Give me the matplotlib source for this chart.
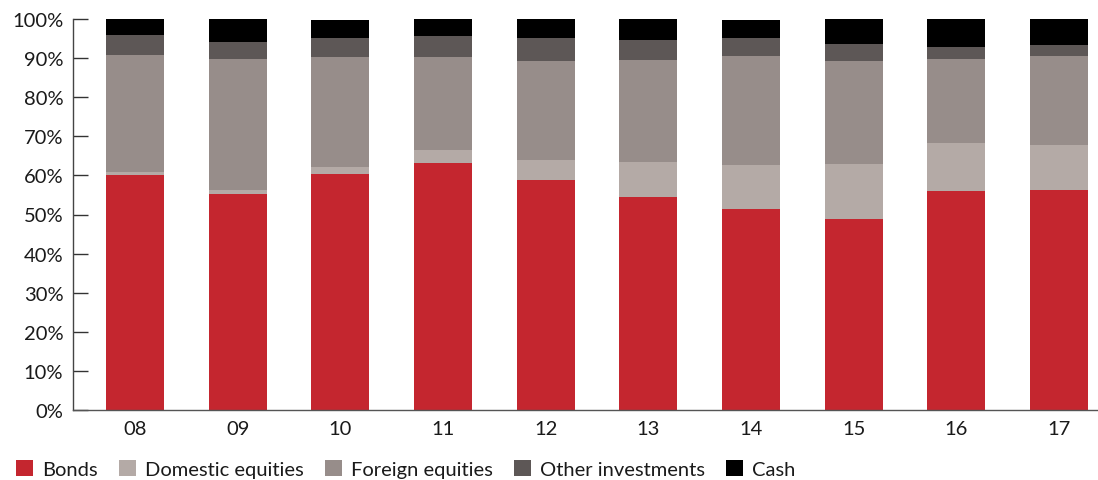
import matplotlib
matplotlib.use("Agg")
import matplotlib.pyplot as plt
from matplotlib.patches import Patch
import numpy as np

years = ["08", "09", "10", "11", "12", "13", "14", "15", "16", "17"]
bonds = [60.1, 55.2, 60.4, 63.2, 58.8, 54.5, 51.4, 48.8, 56.0, 56.3]
domestic = [0.8, 1.1, 1.7, 3.3, 5.1, 8.9, 11.3, 14.1, 12.3, 11.5]
foreign = [29.9, 33.5, 28.2, 23.8, 25.4, 26.1, 27.8, 26.4, 21.5, 22.7]
other = [5.1, 4.3, 4.8, 5.35, 5.8, 5.1, 4.6, 4.3, 3.0, 2.9]
cash = [4.1, 5.9, 4.6, 4.35, 4.9, 5.4, 4.6, 6.4, 7.2, 6.6]

series = [("Bonds", bonds, "#C4262F"),
          ("Domestic equities", domestic, "#B4AAA6"),
          ("Foreign equities", foreign, "#978D8A"),
          ("Other investments", other, "#5D5756"),
          ("Cash", cash, "#000000")]

plt.rcParams['font.family'] = ['Lato', 'DejaVu Sans']
FS = 14.5
TC = "#1a1a1a"

fig = plt.figure(figsize=(10.98, 4.81), dpi=100)
ax = fig.add_axes([73/1098, 70/481, 1 - 73/1098, 391/481])

x = np.arange(len(years))
bottom = np.zeros(len(years))
for name, vals, col in series:
    v = np.array(vals)
    ax.bar(x, v, bottom=bottom, width=0.565, color=col, label=name, linewidth=0)
    bottom += v

ax.set_ylim(0, 100)
ax.set_xlim(-0.604, 9.38)
ax.set_yticks(np.arange(0, 101, 10))
ax.set_yticklabels([f"{t}%" for t in range(0, 101, 10)], fontsize=FS, color=TC)
ax.set_xticks(x)
ax.set_xticklabels(years, fontsize=FS, color=TC)
ax.tick_params(axis='y', direction='in', length=11, width=1, color="#333333", pad=7)
ax.tick_params(axis='x', length=0, pad=7)
for s in ["top", "right"]:
    ax.spines[s].set_visible(False)
ax.spines["left"].set_color("#444444")
ax.spines["bottom"].set_color("#555555")
ax.spines["left"].set_linewidth(1)
ax.spines["bottom"].set_linewidth(1)

handles = [Patch(facecolor=c, edgecolor='none', label=n) for n, _, c in series]
leg = fig.legend(handles=handles, loc="lower left", bbox_to_anchor=(0.0015, -0.0245), ncol=5,
                 frameon=False, fontsize=FS, handlelength=0.85, handleheight=0.85,
                 handletextpad=0.45, columnspacing=1.05, borderaxespad=0.3)
for t in leg.get_texts():
    t.set_color(TC)

fig.savefig("out.png", dpi=100)
